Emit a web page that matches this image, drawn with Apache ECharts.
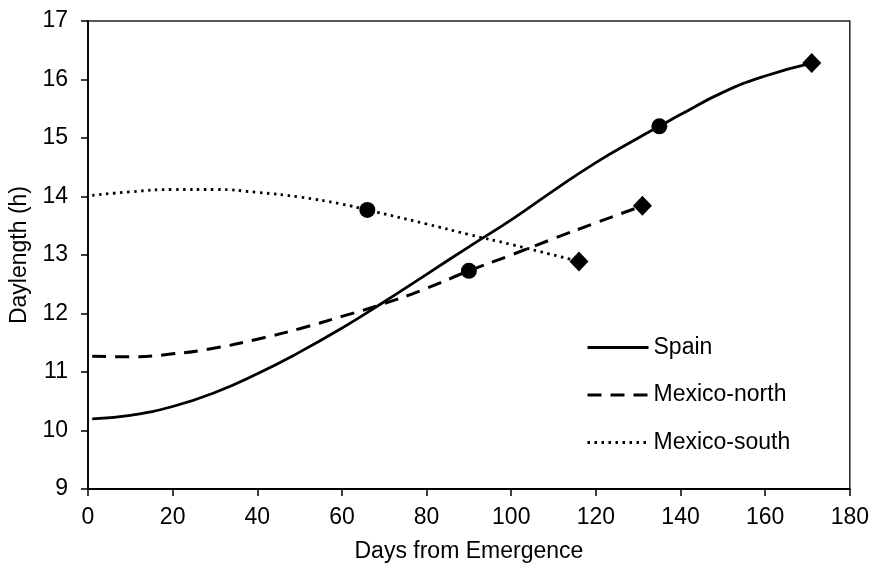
<!DOCTYPE html>
<html>
<head>
<meta charset="utf-8">
<script src="https://cdn.jsdelivr.net/npm/echarts@6/dist/echarts.min.js"></script>
<style>
html,body{margin:0;padding:0;background:#fff;}
#chart{width:872px;height:568px;}
</style>
</head>
<body>
<div id="chart"></div>
<script>
// Data
var seriesNames = ['Spain', 'Mexico-north', 'Mexico-south'];

var spainDays = [1, 10, 20, 30, 40, 50, 60, 70, 80, 90, 100, 110, 120, 130, 135, 140, 150, 160, 171];
var spainDaylength = [10.20, 10.26, 10.41, 10.65, 10.97, 11.34, 11.75, 12.2, 12.67, 13.14, 13.6, 14.1, 14.58, 15.0, 15.2, 15.4, 15.78, 16.06, 16.28];

var northDays = [1, 10, 20, 30, 40, 50, 60, 70, 80, 90, 100, 110, 120, 131];
var northDaylength = [11.27, 11.26, 11.31, 11.41, 11.56, 11.74, 11.95, 12.17, 12.43, 12.73, 13.0, 13.28, 13.55, 13.84];

var southDays = [1, 10, 20, 30, 40, 50, 60, 66, 80, 90, 100, 116];
var southDaylength = [14.02, 14.08, 14.12, 14.12, 14.07, 13.99, 13.87, 13.77, 13.53, 13.35, 13.18, 12.89];

var circleDays = [135, 90, 66];
var circleDaylength = [15.2, 12.73, 13.77];
var diamondDays = [171, 131, 116];
var diamondDaylength = [16.28, 13.84, 12.89];

var xTicks = {min: 0, max: 180, interval: 20};
var yTicks = {min: 9, max: 17, interval: 1};

function pairs(xs, ys) { return xs.map(function (x, i) { return [x, ys[i]]; }); }

var FONT = 'Liberation Sans, Arial, sans-serif';
var FS = 23;
var chart = echarts.init(document.getElementById('chart'), null, {renderer: 'canvas'});

var axisCommon = {
  axisLine: {show: true, onZero: false, lineStyle: {color: '#000', width: 1.8}},
  axisTick: {show: true, inside: false, length: 7, lineStyle: {color: '#000', width: 1.5}},
  splitLine: {show: false},
  nameTextStyle: {color: '#000', fontSize: FS, fontFamily: FONT},
  axisLabel: {color: '#000', fontSize: FS, fontFamily: FONT}
};

chart.setOption({
  animation: false,
  backgroundColor: '#fff',
  grid: {left: 88, right: 20, top: 21, bottom: 76, show: true, borderColor: '#222', borderWidth: 1.5, containLabel: false},
  legend: {
    data: seriesNames,
    orient: 'vertical',
    left: 586,
    top: 336,
    padding: 0,
    itemWidth: 61,
    itemHeight: 14,
    itemGap: 24.5,
    itemStyle: {opacity: 0},
    lineStyle: {width: 3},
    textStyle: {color: '#000', fontSize: FS, fontFamily: FONT, padding: [0, 0, 0, 0]}
  },
  xAxis: Object.assign({}, axisCommon, {
    type: 'value', min: xTicks.min, max: xTicks.max, interval: xTicks.interval,
    name: 'Days from Emergence', nameLocation: 'middle', nameGap: 51,
    axisLabel: Object.assign({}, axisCommon.axisLabel, {margin: 17})
  }),
  yAxis: Object.assign({}, axisCommon, {
    type: 'value', min: yTicks.min, max: yTicks.max, interval: yTicks.interval,
    name: 'Daylength (h)', nameLocation: 'middle', nameGap: 56,
    axisLabel: Object.assign({}, axisCommon.axisLabel, {margin: 20})
  }),
  series: [
    {
      name: seriesNames[0], type: 'line', smooth: true, symbol: 'none',
      data: pairs(spainDays, spainDaylength),
      lineStyle: {color: '#000', width: 2.8, type: 'solid'},
      itemStyle: {color: '#000'}
    },
    {
      name: seriesNames[1], type: 'line', smooth: true, symbol: 'none',
      data: pairs(northDays, northDaylength),
      lineStyle: {color: '#000', width: 3, type: [14, 9]},
      itemStyle: {color: '#000'}
    },
    {
      name: seriesNames[2], type: 'line', smooth: true, symbol: 'none',
      data: pairs(southDays, southDaylength),
      lineStyle: {color: '#000', width: 2.8, type: [2.5, 4.5]},
      itemStyle: {color: '#000'}
    },
    {
      type: 'scatter', symbol: 'circle', symbolSize: 16,
      data: pairs(circleDays, circleDaylength),
      itemStyle: {color: '#000', opacity: 1}, z: 5
    },
    {
      type: 'scatter', symbol: 'diamond', symbolSize: [19, 20],
      data: pairs(diamondDays, diamondDaylength),
      itemStyle: {color: '#000', opacity: 1}, z: 5
    }
  ]
});
</script>
</body>
</html>
